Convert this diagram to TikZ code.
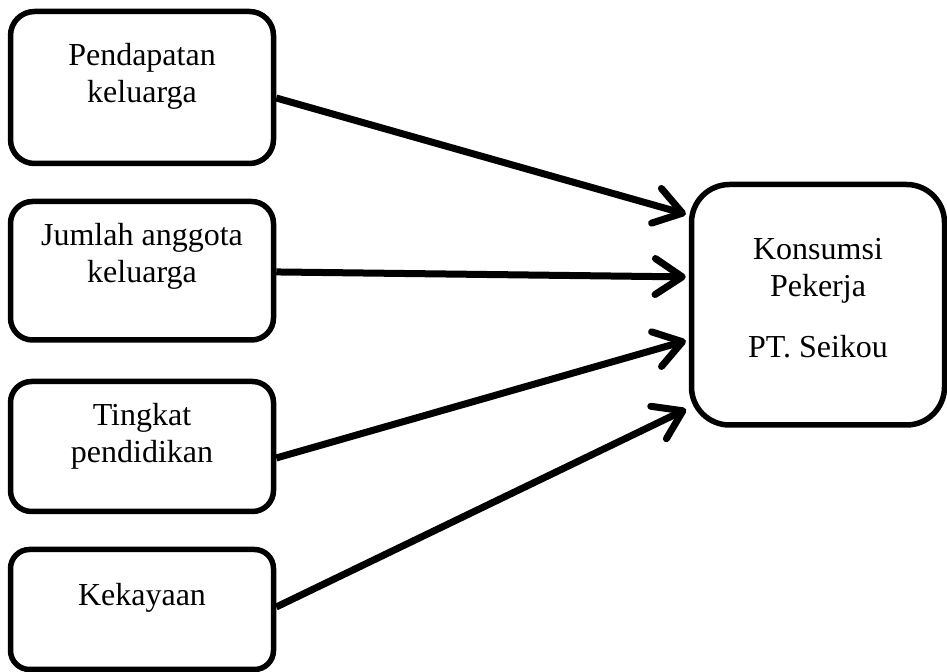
\documentclass[tikz,border=0pt]{standalone}
\usepackage{fontspec}
\setmainfont{Liberation Serif}
\usetikzlibrary{arrows.meta,positioning,calc}
\tikzset{
	>={Straight Barb[length=13.5pt,width=18pt,line cap=round,line join=round]},
	kotak/.style={
		rectangle,
		draw=black, line width=2.75pt,
		fill=white,
		inner sep=0pt,
		minimum width=131.5pt},
	teks/.style={
		align=center,
		inner sep=0pt,
		anchor=north,
		font=\fontsize{16}{18.5}\selectfont},
	panah/.style={->, line width=3.5pt, shorten >=1.5pt},
}

\begin{document}
\begin{tikzpicture}[x=0.5pt,y=-0.5pt]
\useasboundingbox (0,0) rectangle (947,672);

% variabel bebas
\node[kotak, rounded corners=12pt, minimum height=76pt] (pendapatan) at (142,87.5) {};
\node[kotak, rounded corners=11pt, minimum height=69.25pt] (anggota) at (142,270.75) {};
\node[kotak, rounded corners=10.5pt, minimum height=65pt] (pendidikan) at (142,446.5) {};
\node[kotak, rounded corners=9.5pt, minimum height=60pt] (kekayaan) at (142,609.5) {};

% variabel terikat
\node[kotak, rounded corners=19pt, minimum width=126.5pt, minimum height=120.25pt] (konsumsi) at (818,304.75) {};

\node[teks] (tpendapatan) at ([yshift=-17.25pt]pendapatan.north) {Pendapatan\\keluarga};
\node[teks] (tanggota) at ([yshift=-12pt]anggota.north) {Jumlah anggota\\keluarga};
\node[teks] (tpendidikan) at ([yshift=-12pt]pendidikan.north) {Tingkat\\pendidikan};
\node[teks] (tkekayaan) at ([yshift=-18pt]kekayaan.north) {Kekayaan};
\node[teks] (tkonsumsi) at ([yshift=-28pt]konsumsi.north) {Konsumsi\\Pekerja\\[12pt]PT. Seikou};

% panah
\draw[panah] ([yshift=-5.25pt]pendapatan.east) -- ([yshift=44.9pt]konsumsi.west);
\draw[panah] ([yshift=-0.6pt]anggota.east) -- ([yshift=13.9pt]konsumsi.west);
\draw[panah] ([yshift=-5.75pt]pendidikan.east) -- ([yshift=-17.6pt]konsumsi.west);
\draw[panah] ([yshift=1.25pt]kekayaan.east) -- ([yshift=-51.6pt]konsumsi.west);
\end{tikzpicture}
\end{document}
